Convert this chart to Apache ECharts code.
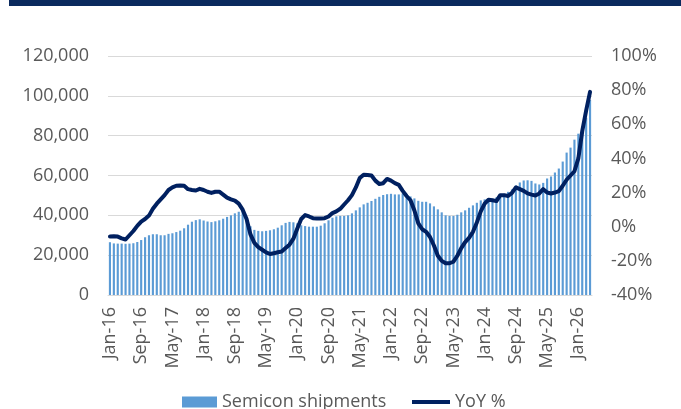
<!DOCTYPE html>
<html>
<head>
<meta charset="utf-8">
<script src="https://cdn.jsdelivr.net/npm/echarts@6/dist/echarts.min.js"></script>
<style>
  html, body { margin: 0; padding: 0; background: #fff; }
  #chart { width: 681px; height: 409px; }
</style>
</head>
<body>
<div id="chart"></div>
<script>
// monthly categories, Jan-16 .. Apr-26
const monthNames = ["Jan","Feb","Mar","Apr","May","Jun","Jul","Aug","Sep","Oct","Nov","Dec"];
const years = ["16","17","18","19","20","21","22","23","24","25","26"];
const lastYearMonths = 4;

// semiconductor shipments (left axis)
const shipments = [
  26500, 25900, 25800, 25800, 25700, 25800, 26000, 26600, 27600, 29000, 30000, 30500,
  30500, 30000, 30000, 30700, 31000, 31600, 32300, 33500, 35300, 36800, 37600, 38000,
  37400, 36900, 36600, 37000, 37500, 38300, 39200, 40000, 41000, 41800, 42300, 38500,
  34500, 32700, 32200, 32000, 32200, 32500, 33000, 33800, 35000, 36200, 36700, 36500,
  36000, 35000, 34600, 34300, 34300, 34300, 34800, 36000, 37500, 38800, 39500, 39700,
  39700, 40000, 41000, 42500, 44000, 45500, 46300, 47200, 48300, 49300, 50200, 50600,
  50800, 50500, 50500, 51000, 50300, 49500, 48500, 47300, 46800, 46800, 46000, 44500,
  43000, 41500, 40000, 39700, 39700, 40300, 41500, 42500, 43800, 45000, 46300, 47500,
  48000, 48300, 48300, 49000, 50000, 50800, 51800, 53000, 55000, 56500, 57500, 57600,
  57300, 56000, 55500, 56300, 58500, 59500, 61500, 63500, 67000, 71500, 74000, 78000,
  81000, 83500, 89000, 98000
];

// year-on-year change, % (right axis)
const yoy = [
  -5.8, -5.6, -5.8, -6.8, -7.5, -5.0, -2.5, 0.5, 3.0, 4.5, 6.5, 10.5,
  13.5, 16.0, 18.5, 21.5, 23.0, 24.0, 24.2, 24.0, 22.0, 21.5, 21.2, 22.2,
  21.5, 20.5, 19.8, 20.5, 20.5, 18.8, 17.0, 16.0, 15.3, 13.5, 10.0, 4.5,
  -4.5, -9.5, -12.0, -13.5, -15.0, -16.0, -15.5, -15.0, -14.5, -12.5, -10.5, -7.0,
  -1.0, 4.5, 6.8, 6.0, 5.0, 4.8, 4.8, 5.0, 6.0, 8.0, 9.0, 10.5,
  13.0, 15.5, 18.5, 23.0, 28.5, 30.5, 30.3, 30.0, 27.0, 25.0, 25.5, 28.0,
  27.0, 25.5, 24.5, 21.0, 18.0, 15.5, 9.5, 2.0, -1.5, -3.0, -6.0, -11.0,
  -17.0, -20.0, -21.4, -21.4, -20.5, -17.0, -12.5, -9.0, -6.5, -3.0, 2.5, 9.0,
  13.5, 15.8, 15.5, 15.0, 18.5, 18.5, 18.0, 19.8, 23.0, 22.0, 21.0, 19.5,
  18.8, 18.3, 19.5, 22.0, 20.0, 19.5, 20.0, 20.8, 24.0, 27.5, 30.0, 32.5,
  40.0, 56.0, 68.0, 79.0
];

// axis ranges
const leftTicks = { min: 0, max: 120000, interval: 20000 };
const rightTicks = { min: -40, max: 100, interval: 20 };

const months = [];
years.forEach((y, k) => {
  const n = k === years.length - 1 ? lastYearMonths : 12;
  for (let m = 0; m < n; m++) months.push(monthNames[m] + "-" + y);
});

const font = "'Open Sans', sans-serif";
const grey = "#595959";
const barBlue = "#5b9bd5";
const navy = "#002060";

const chart = echarts.init(document.getElementById("chart"));
chart.setOption({
  animation: false,
  textStyle: { fontFamily: font },
  graphic: [{
    type: "rect",
    shape: { x: 9, y: 0, width: 672, height: 6 },
    style: { fill: "#0b2a5e" }
  }],
  grid: { left: 108, right: 89, top: 56, bottom: 114 },
  legend: [
    {
      data: [{ name: "Semicon shipments", icon: "rect" }],
      left: 182, top: 393, padding: 0,
      itemWidth: 35, itemHeight: 11,
      textStyle: { color: grey, fontSize: 18, fontFamily: font }
    },
    {
      data: [{ name: "YoY %", icon: "rect" }],
      left: 412, top: 393, padding: 0,
      itemWidth: 38, itemHeight: 4,
      textStyle: { color: grey, fontSize: 18, fontFamily: font }
    }
  ],
  xAxis: {
    type: "category",
    data: months,
    boundaryGap: true,
    axisLine: { show: true, lineStyle: { color: "#d9d9d9" } },
    axisTick: { show: false },
    axisLabel: {
      interval: 7,
      rotate: 90,
      margin: 12,
      color: grey,
      fontSize: 18,
      fontFamily: font
    }
  },
  yAxis: [
    {
      type: "value",
      min: leftTicks.min, max: leftTicks.max, interval: leftTicks.interval,
      axisLine: { show: false },
      axisTick: { show: false },
      splitLine: { lineStyle: { color: "#d9d9d9", width: 1 } },
      axisLabel: {
        margin: 19,
        color: grey,
        fontSize: 18,
        fontFamily: font,
        formatter: v => v.toLocaleString("en-US")
      }
    },
    {
      type: "value",
      min: rightTicks.min, max: rightTicks.max, interval: rightTicks.interval,
      axisLine: { show: false },
      axisTick: { show: false },
      splitLine: { show: false },
      axisLabel: {
        margin: 19,
        color: grey,
        fontSize: 18,
        fontFamily: font,
        formatter: "{value}%"
      }
    }
  ],
  series: [
    {
      name: "Semicon shipments",
      type: "bar",
      data: shipments,
      yAxisIndex: 0,
      barCategoryGap: "45%",
      itemStyle: { color: barBlue }
    },
    {
      name: "YoY %",
      type: "line",
      data: yoy,
      yAxisIndex: 1,
      symbol: "none",
      lineStyle: { color: navy, width: 4, join: "round", cap: "round" },
      itemStyle: { color: navy },
      z: 5
    }
  ]
});
</script>
</body>
</html>
